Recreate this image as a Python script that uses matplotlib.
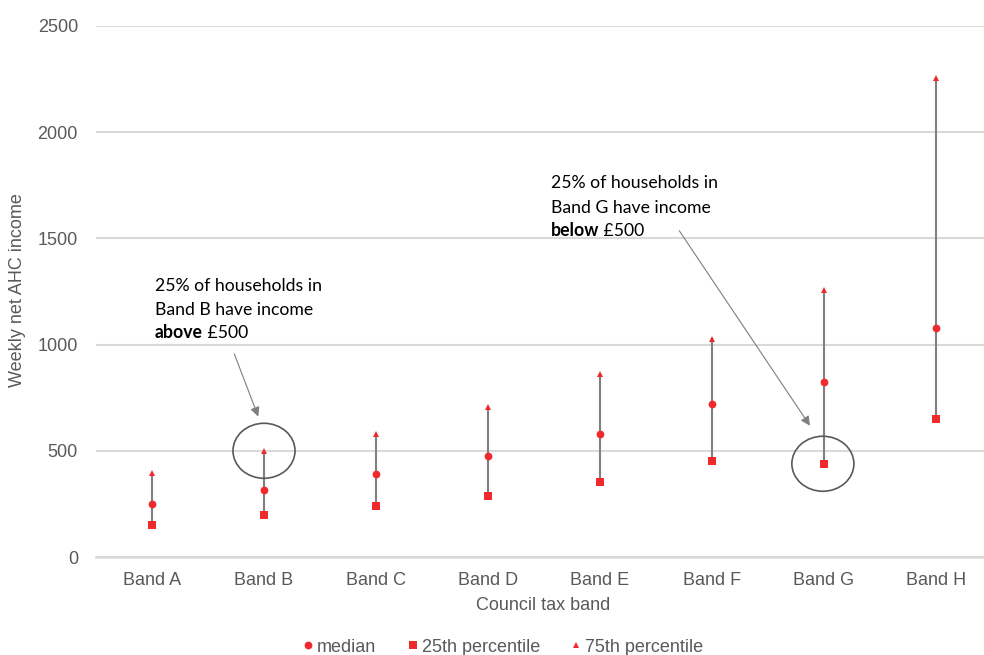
import matplotlib
matplotlib.use("Agg")
import matplotlib.pyplot as plt
from matplotlib.patches import Ellipse
from matplotlib.lines import Line2D

# Weekly net after-housing-cost income by council tax band
bands = ["Band A", "Band B", "Band C", "Band D", "Band E", "Band F", "Band G", "Band H"]
p25 = [150, 197, 241, 285, 353, 450, 437, 650]
median = [250, 315, 393, 475, 577, 720, 822, 1076]
p75 = [395, 500, 579, 707, 861, 1026, 1258, 2257]
yticks = [0, 500, 1000, 1500, 2000, 2500]

RED = "#ee2a2c"
GREY_TXT = "#595959"
GRID = "#d9d9d9"

plt.rcParams["font.family"] = ["Liberation Sans", "DejaVu Sans"]

W, H = 984, 655
fig = plt.figure(figsize=(W / 100, H / 100), dpi=100)
ax = fig.add_axes([96 / W, (H - 557) / H, 896 / W, 531 / H])

x = list(range(len(bands)))

# range lines from 25th to 75th percentile
ax.vlines(x, p25, p75, color="#7f7f7f", lw=1.5, zorder=2)
ax.plot(x, median, "o", color=RED, ms=5.6, mew=0, zorder=3)
ax.plot(x, p25, "s", color=RED, ms=5.4, mew=0, zorder=3)
ax.plot(x, p75, "^", color=RED, ms=5.0, mew=0, zorder=3)

ax.set_xlim(-0.5, len(bands) - 0.5)
ax.set_ylim(0, 2500)
ax.set_yticks(yticks)
ax.set_xticks(x)
ax.set_xticklabels(bands)
ax.tick_params(axis="both", length=0, labelsize=13, colors=GREY_TXT)
ax.tick_params(axis="y", pad=13)
ax.tick_params(axis="x", pad=11)
ax.yaxis.grid(True, color=GRID, lw=1.5, zorder=0)
ax.set_axisbelow(True)
for s in ["top", "right", "left"]:
    ax.spines[s].set_visible(False)
ax.spines["bottom"].set_color(GRID)
ax.spines["bottom"].set_linewidth(1.8)

fig.text(18 / W, 1 - 290 / H, "Weekly net AHC income", rotation=90,
         ha="center", va="center", fontsize=13, color=GREY_TXT)
fig.text(543 / W, 1 - 605 / H, "Council tax band",
         ha="center", va="center", fontsize=13, color=GREY_TXT)

# callouts
ann_font = dict(family=["Lato", "DejaVu Sans"], fontsize=12.7, color="#000000")


def callout(x0, ys, line1, line2, bold_word, rest):
    ax.text(x0, ys[0], line1, va="baseline", ha="left", **ann_font)
    ax.text(x0, ys[1], line2, va="baseline", ha="left", **ann_font)
    b = ax.text(x0, ys[2], bold_word, va="baseline", ha="left",
                fontweight="bold", **ann_font)
    ax.annotate(rest, xy=(1, 0), xycoords=b, va="bottom", ha="left", **ann_font)


callout(0.027, (1254, 1141, 1033), "25% of households in",
        "Band B have income", "above", " £500")
callout(3.56, (1739, 1621, 1513), "25% of households in",
        "Band G have income", "below", " £500")

arrow = dict(arrowstyle="-|>", color="#7f7f7f", lw=0.8, mutation_scale=14,
             shrinkA=0, shrinkB=0)
ax.annotate("", xy=(0.949, 661), xytext=(0.735, 956), arrowprops=arrow)
ax.annotate("", xy=(5.875, 618), xytext=(4.708, 1536), arrowprops=arrow)

for cx, cy in [(1.0, 500), (5.99, 439)]:
    ax.add_patch(Ellipse((cx, cy), 0.554, 259, fill=False,
                         edgecolor="#595959", lw=1.2, zorder=4))

handles = [
    Line2D([], [], ls="none", marker="o", color=RED, ms=5.6, mew=0),
    Line2D([], [], ls="none", marker="s", color=RED, ms=5.4, mew=0),
    Line2D([], [], ls="none", marker="^", color=RED, ms=5.0, mew=0),
]
leg = fig.legend(handles, ["median", "25th percentile", "75th percentile"],
                 loc="center", bbox_to_anchor=(503 / W, 1 - 647 / H), ncol=3,
                 frameon=False, fontsize=13, handlelength=0.6,
                 handletextpad=0.2, columnspacing=1.7, borderpad=0)
for t in leg.get_texts():
    t.set_color(GREY_TXT)

fig.savefig("out.png", dpi=100)
